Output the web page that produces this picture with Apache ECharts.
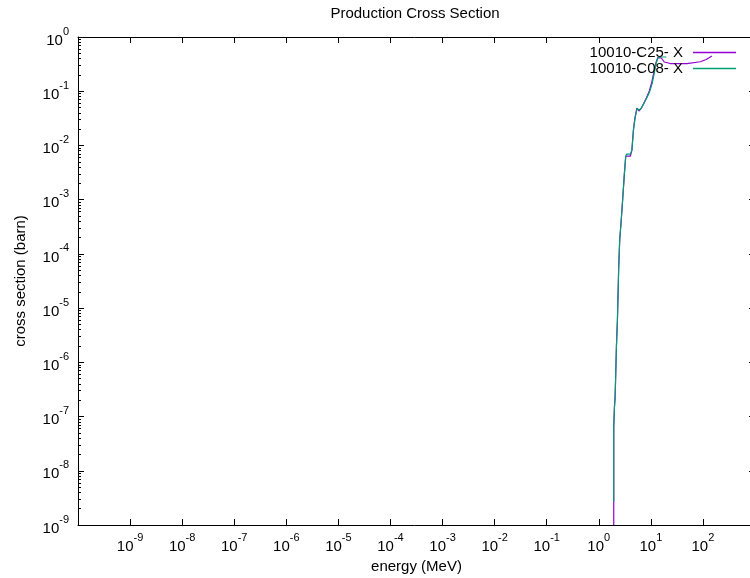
<!DOCTYPE html>
<html>
<head>
<meta charset="utf-8">
<title>Production Cross Section</title>
<script src="https://cdn.jsdelivr.net/npm/echarts@6/dist/echarts.min.js"></script>
<style>
  html, body { margin: 0; padding: 0; background: #fff; }
  #chart { width: 750px; height: 578px; }
</style>
</head>
<body>
<div id="chart"></div>
<script>
// energy (MeV) / cross section (barn)
const energyC25 = [1.938, 1.938, 2.000, 2.000, 2.062, 2.062, 2.183, 2.183, 2.282, 2.282,
  2.416, 2.416, 2.525, 2.525, 2.686, 2.686, 2.844, 2.844, 2.973, 2.973,
  3.107, 3.107, 3.290, 3.290, 4.05, 4.325, 4.42, 4.62, 4.94, 5.39,
  5.89, 6.58, 8.20, 9.36, 10.45, 11.42, 12.47, 13.62, 14.55, 15.89,
  18.14, 23.64, 49.4, 88.8, 115.7, 148.7];
const xsC25 = [1e-9, 6.46e-8, 6.46e-8, 1.49e-7, 1.49e-7, 2.31e-7, 2.31e-7, 1.93e-6, 1.93e-6, 6.01e-6,
  6.01e-6, 5.78e-5, 5.78e-5, 1.80e-4, 1.80e-4, 3.91e-4, 3.91e-4, 8.55e-4, 8.55e-4, 1.62e-3,
  1.62e-3, 3.05e-3, 3.05e-3, 6.37e-3, 6.37e-3, 8.23e-3, 1.107e-2, 1.923e-2, 3.20e-2, 4.90e-2,
  4.31e-2, 4.90e-2, 7.49e-2, 0.1009, 0.1478, 0.226, 0.331, 0.418, 0.446, 0.410,
  0.346, 0.324, 0.324, 0.350, 0.385, 0.446];

const energyC08 = [1.938, 1.938, 2.000, 2.000, 2.062, 2.062, 2.183, 2.183, 2.282, 2.282,
  2.416, 2.416, 2.525, 2.525, 2.686, 2.686, 2.844, 2.844, 2.973, 2.973,
  3.107, 3.107, 3.290, 3.290, 3.40, 3.40, 4.05, 4.36, 4.45, 4.65,
  4.97, 5.42, 6.00, 6.65, 8.30, 9.50, 10.6, 11.6, 12.6, 13.7,
  15.2, 19.8];
const xsC08 = [2.67e-9, 6.46e-8, 6.46e-8, 1.49e-7, 1.49e-7, 2.31e-7, 2.31e-7, 1.93e-6, 1.93e-6, 6.01e-6,
  6.01e-6, 5.78e-5, 5.78e-5, 1.80e-4, 1.80e-4, 3.91e-4, 3.91e-4, 8.55e-4, 8.55e-4, 1.62e-3,
  1.62e-3, 3.05e-3, 3.05e-3, 6.10e-3, 6.10e-3, 6.90e-3, 6.90e-3, 8.40e-3, 1.12e-2, 1.95e-2,
  3.15e-2, 4.80e-2, 4.50e-2, 4.95e-2, 7.40e-2, 0.098, 0.138, 0.212, 0.325, 0.415,
  0.428, 0.428];

const seriesNames = ['10010-C25- X', '10010-C08- X'];
const seriesColors = ['#9400d3', '#009e73'];
const energyDecades = [-10, 3];   // log10 of the energy range
const xsRange = [1e-9, 1];

const FONT = '"Liberation Sans", Arial, Helvetica, sans-serif';

// "10" with a raised exponent
const powRich = {
  b: { fontSize: 15, lineHeight: 22, verticalAlign: 'bottom', color: '#000', fontFamily: FONT },
  s: { fontSize: 11, lineHeight: 11, verticalAlign: 'top', color: '#000', fontFamily: FONT }
};
function powLabel (exp) {
  return '{b|10}{s|' + exp + '}';
}

function toPairs (energy, xs) {
  return energy.map((e, i) => [Math.log10(e), xs[i]]);
}

const tickStyle = { color: '#000', width: 1 };

function energyAxis (pos, withLabels) {
  return {
    type: 'value',
    position: pos,
    min: energyDecades[0],
    max: energyDecades[1],
    interval: 1,
    name: withLabels ? 'energy (MeV)' : '',
    nameLocation: 'middle',
    nameGap: 34,
    nameTextStyle: { fontSize: 15, color: '#000', fontFamily: FONT },
    axisLine: { show: true, onZero: false, lineStyle: tickStyle },
    axisTick: { show: true, inside: true, length: 6, lineStyle: tickStyle },
    splitLine: { show: false },
    axisLabel: {
      show: withLabels,
      margin: 7,
      showMinLabel: false,
      showMaxLabel: false,
      rich: powRich,
      formatter: function (v) {
        return Number.isInteger(v) ? powLabel(v) : '';
      }
    }
  };
}

function xsAxis (pos, withLabels) {
  return {
    type: 'log',
    logBase: 10,
    position: pos,
    min: xsRange[0],
    max: xsRange[1],
    name: withLabels ? 'cross section (barn)' : '',
    nameLocation: 'middle',
    nameGap: 50,
    nameTextStyle: { fontSize: 15, color: '#000', fontFamily: FONT },
    axisLine: { show: true, onZero: false, lineStyle: tickStyle },
    axisTick: { show: true, inside: true, length: 6, lineStyle: tickStyle },
    minorTick: { show: true, splitNumber: 9, length: 3, lineStyle: tickStyle },
    splitLine: { show: false },
    minorSplitLine: { show: false },
    axisLabel: {
      show: withLabels,
      margin: 9,
      rich: powRich,
      formatter: function (v) {
        return powLabel(Math.round(Math.log10(v)));
      }
    }
  };
}

const chart = echarts.init(document.getElementById('chart'), null, { renderer: 'canvas' });

const option = {
  animation: false,
  backgroundColor: '#fff',
  title: {
    text: 'Production Cross Section',
    left: 410,
    top: 1,
    textAlign: 'center',
    textStyle: { fontSize: 15, fontWeight: 'normal', color: '#000', fontFamily: FONT }
  },
  grid: {
    left: 78,
    right: -5,
    top: 37,
    bottom: 53,
    containLabel: false,
    outerBoundsMode: 'none'
  },
  legend: {
    data: seriesNames,
    orient: 'vertical',
    align: 'right',
    right: 14,
    top: 45,
    padding: 0,
    itemGap: 1,
    itemWidth: 43,
    itemHeight: 1.5,
    icon: 'rect',
    selectedMode: false,
    textStyle: { fontSize: 15, lineHeight: 15, color: '#000', fontFamily: FONT, padding: [0, 5, 0, 0] }
  },
  xAxis: [energyAxis('bottom', true), energyAxis('top', false)],
  yAxis: [xsAxis('left', true), xsAxis('right', false)],
  series: [
    {
      name: seriesNames[0],
      type: 'line',
      xAxisIndex: 0,
      yAxisIndex: 0,
      data: toPairs(energyC25, xsC25),
      showSymbol: false,
      symbol: 'none',
      clip: true,
      color: seriesColors[0],
      lineStyle: { width: 1.2, color: seriesColors[0] }
    },
    {
      name: seriesNames[1],
      type: 'line',
      xAxisIndex: 0,
      yAxisIndex: 0,
      data: toPairs(energyC08, xsC08),
      showSymbol: false,
      symbol: 'none',
      clip: true,
      color: seriesColors[1],
      lineStyle: { width: 1.2, color: seriesColors[1] }
    }
  ]
};

chart.setOption(option);
</script>
</body>
</html>
